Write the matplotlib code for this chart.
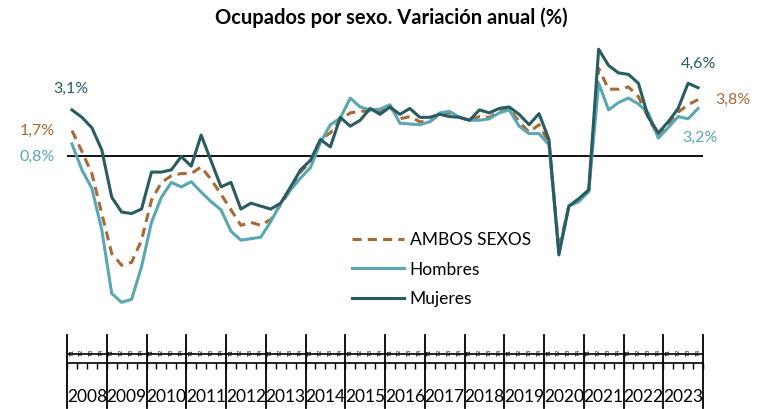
import matplotlib
matplotlib.use("Agg")
import matplotlib.pyplot as plt
import matplotlib.transforms as mtransforms

plt.rcParams['font.family'] = ['Lato', 'DejaVu Sans']

# years and quarters (2008T1 .. 2023T4)
years = [str(y) for y in range(2008, 2024)]
quarters = ['T1', 'T2', 'T3', 'T4']

# annual variation of employed people (%)
ambos = [1.7, 0.3, -1.2, -3.9, -6.6, -7.4, -7.2, -5.7,
         -3.0, -1.8, -1.35, -1.2, -1.2, -0.75, -1.6, -2.6,
         -3.65, -4.7, -4.5, -4.7, -4.3, -3.3, -2.3, -1.1,
         -0.4, 1.1, 1.55, 2.4, 2.9, 3.0, 3.05, 3.0,
         3.3, 2.5, 2.65, 2.3, 2.3, 2.8, 2.9, 2.6,
         2.4, 2.65, 2.6, 3.0, 3.2, 2.3, 1.6, 2.1,
         0.9, -6.3, -3.4, -3.0, -2.4, 5.9, 4.5, 4.5,
         4.65, 4.0, 2.55, 1.35, 2.0, 2.95, 3.45, 3.8]
hombres = [0.8, -0.95, -2.2, -5.0, -9.3, -9.9, -9.7, -7.5,
           -4.5, -2.8, -1.8, -2.1, -1.75, -2.45, -3.1, -3.65,
           -5.1, -5.7, -5.6, -5.5, -4.45, -3.2, -2.3, -1.5,
           -0.8, 0.9, 2.1, 2.55, 3.9, 3.3, 3.1, 3.15,
           3.45, 2.2, 2.15, 2.1, 2.3, 2.9, 3.0, 2.6,
           2.4, 2.4, 2.5, 2.9, 3.1, 2.0, 1.5, 1.5,
           0.75, -6.5, -3.4, -3.1, -2.4, 4.9, 3.1, 3.6,
           3.9, 3.5, 2.9, 1.2, 1.9, 2.65, 2.5, 3.2]
mujeres = [3.1, 2.6, 1.9, 0.4, -2.8, -3.8, -3.9, -3.6,
           -1.1, -1.1, -0.95, -0.05, -0.7, 1.4, -0.35, -2.1,
           -1.8, -3.6, -3.2, -3.4, -3.6, -3.2, -2.1, -0.95,
           -0.3, 1.1, 0.6, 2.6, 2.0, 2.4, 3.2, 2.8,
           3.3, 2.8, 3.2, 2.6, 2.6, 2.8, 2.65, 2.6,
           2.4, 3.1, 2.9, 3.2, 3.3, 2.8, 2.1, 2.85,
           1.1, -6.7, -3.4, -2.9, -2.3, 7.2, 6.1, 5.6,
           5.5, 4.9, 2.6, 1.55, 2.3, 3.2, 4.9, 4.6]

c_ambos = '#a86a35'
c_hombres = '#5aa7b4'
c_mujeres = '#285c60'

x = list(range(len(ambos)))

fig = plt.figure(figsize=(7.66, 4.09), dpi=100)
W, H = 766, 409
# axes: x 67..703 px, y 30..363 px
ax = fig.add_axes([67 / W, 1 - 363 / H, (703 - 67) / W, (363 - 30) / H])

ax.plot(x, ambos, color=c_ambos, lw=2.2, ls=(0, (3, 2)), label='AMBOS SEXOS')
ax.plot(x, hombres, color=c_hombres, lw=2.2, label='Hombres')
ax.plot(x, mujeres, color=c_mujeres, lw=2.2, label='Mujeres')

ax.axhline(0, color='black', lw=1.3, zorder=1)

ax.set_xlim(-0.5, len(x) - 0.5)
ax.set_ylim(-14, 8.5)

for s in ['top', 'right', 'left']:
    ax.spines[s].set_visible(False)
ax.spines['bottom'].set_linewidth(1.2)
ax.set_yticks([])

# quarter ticks and labels
ax.set_xticks([i - 0.5 for i in range(len(x) + 1)])
ax.set_xticklabels([])
ax.tick_params(axis='x', direction='out', length=4, width=1)
ax.axhline(-13.4, color='black', lw=1.2)
for i in x:
    ax.text(i, -13.5, quarters[i % 4], rotation=90, fontsize=4.5,
            ha='center', va='bottom', color='black')

# year separators and year labels
trans = mtransforms.blended_transform_factory(ax.transData, ax.transAxes)
for k in range(len(years) + 1):
    ax.plot([4 * k - 0.5, 4 * k - 0.5], [0.084, -0.135], color='black', lw=1.3,
            transform=trans, clip_on=False)
for k, yr in enumerate(years):
    ax.text(4 * k + 1.5, -0.102, yr, transform=trans, ha='center', va='center',
            fontsize=12.5, color='black')

# value labels
fs = 11.5
ax.annotate('3,1%', (0, mujeres[0]), xytext=(-1, 15), textcoords='offset points',
            ha='center', va='center', color=c_mujeres, fontsize=fs)
ax.annotate('1,7%', (0, ambos[0]), xytext=(-25, 0), textcoords='offset points',
            ha='center', va='center', color=c_ambos, fontsize=fs)
ax.annotate('0,8%', (0, hombres[0]), xytext=(-25, -9), textcoords='offset points',
            ha='center', va='center', color=c_hombres, fontsize=fs)
ax.annotate('4,6%', (x[-1], mujeres[-1]), xytext=(0, 17), textcoords='offset points',
            ha='center', va='center', color=c_mujeres, fontsize=fs)
ax.annotate('3,8%', (x[-1], ambos[-1]), xytext=(25, 0), textcoords='offset points',
            ha='center', va='center', color=c_ambos, fontsize=fs)
ax.annotate('3,2%', (x[-1], hombres[-1]), xytext=(1, -21), textcoords='offset points',
            ha='center', va='center', color=c_hombres, fontsize=fs)

ax.legend(loc='upper left', bbox_to_anchor=((336 - 67) / 636, 1 - (216 - 30) / 333),
          frameon=False, fontsize=12.5, handlelength=3.0, handletextpad=0.35,
          labelspacing=0.8)

fig.suptitle('Ocupados por sexo. Variación anual (%)', x=391 / W, y=1 - 18 / H,
             va='center', fontsize=14.5, fontweight='bold')

fig.savefig('out.png', dpi=100)
